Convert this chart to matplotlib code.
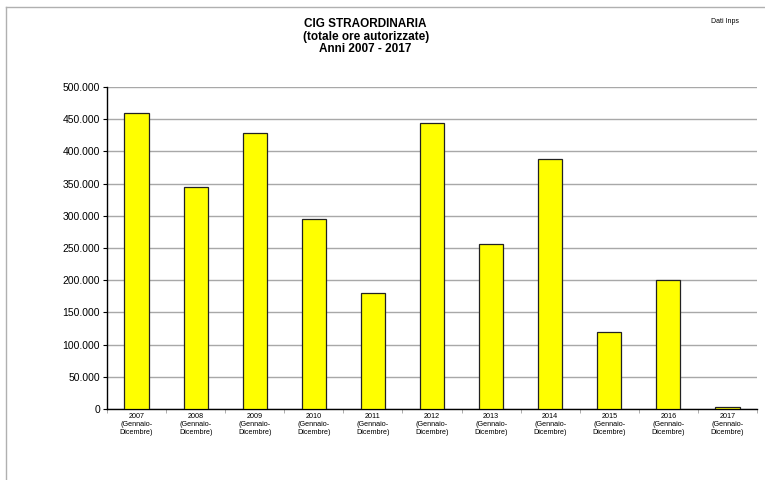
import numpy as np
import matplotlib.pyplot as plt
from matplotlib import font_manager
from matplotlib.ticker import FuncFormatter, FixedLocator

plt.rcParams['font.family'] = ['Liberation Sans', 'DejaVu Sans']
names = set(f.name for f in font_manager.fontManager.ttflist)
narrow = 'Liberation Sans Narrow' if 'Liberation Sans Narrow' in names else 'Liberation Sans'
print(narrow)

years = ['2007', '2008', '2009', '2010', '2011', '2012',
         '2013', '2014', '2015', '2016', '2017']
ore = [460000, 345000, 428000, 295000, 180000, 444000,
       256000, 388000, 120000, 200000, 3000]
labels = ['%s\n(Gennaio-\nDicembre)' % y for y in years]

fig = plt.figure(figsize=(7.65, 4.8), dpi=100)
ax = fig.add_axes([0.1399, 0.1479, 0.8496, 0.6709])

x = np.arange(len(years))
ax.bar(x, ore, width=0.41, color='#ffff00', edgecolor='#222222', linewidth=0.9, zorder=3)

ax.set_xlim(-0.5, len(years) - 0.5)
ax.set_ylim(0, 500000)
ax.set_yticks(np.arange(0, 500001, 50000))
ax.yaxis.set_major_formatter(FuncFormatter(lambda v, p: '{:,.0f}'.format(v).replace(',', '.')))
ax.yaxis.grid(True, color='#a8a8a8', linewidth=1.0, zorder=0)
ax.tick_params(axis='y', labelsize=7.5, length=3, width=0.8, pad=2)

ax.set_xticks(x)
ax.set_xticklabels(labels, fontsize=5.2, linespacing=1.15, family=[narrow, 'DejaVu Sans'])
ax.tick_params(axis='x', length=0, pad=3)
ax.xaxis.set_minor_locator(FixedLocator(np.arange(-0.5, len(years), 1.0)))
ax.tick_params(axis='x', which='minor', length=3, color='#a0a0a0')

for s in ['top', 'right']:
    ax.spines[s].set_visible(False)
ax.spines['left'].set_linewidth(1.0)
ax.spines['bottom'].set_linewidth(1.0)

fig.text(0.478, 0.962, 'CIG STRAORDINARIA\n(totale ore autorizzate)\nAnni 2007 - 2017',
         ha='center', va='top', fontsize=8.5, fontweight='bold', linespacing=1.05,
         family=[narrow, 'DejaVu Sans'])
fig.text(0.948, 0.962, 'Dati Inps', ha='center', va='top', fontsize=5,
         family=[narrow, 'DejaVu Sans'])

# frame lines of the original sheet
fig.add_artist(plt.Line2D([0.008, 0.008], [0.0, 0.985], color='#b0b0b0', linewidth=1.0))
fig.add_artist(plt.Line2D([0.008, 1.0], [0.985, 0.985], color='#b0b0b0', linewidth=1.0))

fig.savefig('out.png', dpi=100)
